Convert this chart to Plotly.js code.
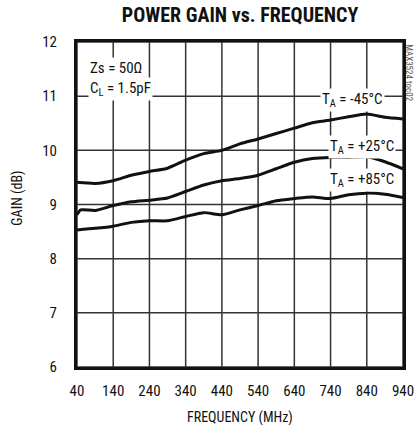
<!DOCTYPE html>
<html><head><meta charset="utf-8">
<script src="https://cdn.plot.ly/plotly-3.0.1.min.js"></script>
<style>html,body{margin:0;padding:0;background:#fff}#c{width:414px;height:430px}</style>
</head><body><div id="c"></div>
<script>
const freq = [40, 90, 140, 190, 240, 290, 340, 390, 440, 490, 540, 590, 640, 690, 740, 790, 840, 890, 940];
const gainM45 = [9.41, 9.39, 9.44, 9.54, 9.61, 9.67, 9.82, 9.94, 10.00, 10.12, 10.21, 10.31, 10.41, 10.51, 10.56, 10.62, 10.67, 10.61, 10.58];
const freq25 = [40, 50, 90, 140, 190, 240, 290, 340, 390, 440, 490, 540, 590, 640, 690, 740, 790, 840, 890, 940];
const gainP25 = [8.81, 8.90, 8.89, 8.98, 9.05, 9.08, 9.12, 9.24, 9.36, 9.44, 9.48, 9.54, 9.66, 9.78, 9.85, 9.87, 9.87, 9.88, 9.79, 9.66];
const gainP85 = [8.53, 8.56, 8.60, 8.67, 8.70, 8.70, 8.78, 8.85, 8.81, 8.90, 8.98, 9.07, 9.11, 9.14, 9.11, 9.18, 9.21, 9.19, 9.13];
const xTicks = [40, 140, 240, 340, 440, 540, 640, 740, 840, 940];
const yTicks = [6, 7, 8, 9, 10, 11, 12];
const labels = ['T<sub>A</sub> = -45°C', 'T<sub>A</sub> = +25°C', 'T<sub>A</sub> = +85°C'];

const F = '"Liberation Sans Narrow", "Arial Narrow", "Roboto Condensed", "Liberation Sans", Arial, sans-serif';
const xR = [xTicks[0], xTicks[xTicks.length - 1]];
const yR = [yTicks[0], yTicks[yTicks.length - 1]];

// grid lines as layout shapes built from the tick arrays and axis ranges
const gridShapes = [];
xTicks.forEach(v => gridShapes.push({type: 'line', xref: 'paper', yref: 'y',
  x0: (v - xR[0]) / (xR[1] - xR[0]), x1: (v - xR[0]) / (xR[1] - xR[0]), y0: yR[0], y1: yR[1],
  layer: 'below', line: {color: '#333', width: 1.5}}));
yTicks.forEach(v => gridShapes.push({type: 'line', xref: 'paper', yref: 'y', x0: 0, x1: 1, y0: v, y1: v,
  layer: 'below', line: {color: '#333', width: 1.5}}));

const line = {color: '#111', width: 3, shape: 'spline', smoothing: 0.6};
const traces = [
  {x: freq, y: gainM45, mode: 'lines', line: line, name: labels[0]},
  {x: freq25, y: gainP25, mode: 'lines', line: line, name: labels[1]},
  {x: freq, y: gainP85, mode: 'lines', line: line, name: labels[2]}
];
const tf = {family: F, size: 15, color: '#111'};
const layout = {
  width: 414, height: 430,
  margin: {l: 77, r: 11, t: 42, b: 63},
  paper_bgcolor: '#ffffff', plot_bgcolor: 'rgba(0,0,0,0)',
  showlegend: false,
  font: {family: F, size: 15, color: '#111'},
  title: {text: '<b>POWER GAIN vs. FREQUENCY</b>', font: {family: F, size: 20, color: '#111'}, x: 0.58, xanchor: 'center', y: 0.965, yanchor: 'middle'},
  xaxis: {range: xR, tickvals: xTicks, showgrid: false,
    showline: true, mirror: true, linecolor: '#111', linewidth: 3, zeroline: false,
    ticks: 'outside', ticklen: 8, tickcolor: '#ffffff', ticklabeloverflow: 'allow', tickfont: tf},
  yaxis: {range: yR, tickvals: yTicks, showgrid: false,
    showline: true, mirror: true, linecolor: '#111', linewidth: 3, zeroline: false,
    ticks: 'outside', ticklen: 14, tickcolor: '#ffffff', tickfont: tf},
  shapes: gridShapes,
  annotations: [
    {xref: 'paper', yref: 'paper', x: 0.5, y: -0.155, yanchor: 'middle', text: 'FREQUENCY (MHz)', showarrow: false, font: {family: F, size: 14, color: '#111'}},
    {xref: 'paper', yref: 'paper', x: -0.185, y: 0.52, xanchor: 'center', yanchor: 'middle', text: 'GAIN (dB)', textangle: -90, showarrow: false, font: {family: F, size: 14, color: '#111'}},
    {xref: 'paper', yref: 'paper', x: 0.035, y: 0.955, xanchor: 'left', text: 'Zs = 50Ω', showarrow: false, bgcolor: '#fff', font: tf},
    {xref: 'paper', yref: 'paper', x: 0.035, y: 0.893, xanchor: 'left', text: 'C<sub>L</sub> = 1.5pF', showarrow: false, bgcolor: '#fff', font: tf},
    {x: 800, y: 10.93, text: labels[0], showarrow: false, bgcolor: '#fff', font: tf},
    {x: 827, y: 10.06, text: labels[1], showarrow: false, bgcolor: '#fff', font: tf},
    {x: 827, y: 9.45, text: labels[2], showarrow: false, bgcolor: '#fff', font: tf},
    {xref: 'paper', yref: 'paper', x: 1.018, y: 1.0, xanchor: 'center', yanchor: 'top', text: 'MAX3524 toc02', textangle: 90, showarrow: false, font: {family: F, size: 9, color: '#555'}}
  ]
};
Plotly.newPlot('c', traces, layout, {displayModeBar: false});
</script></body></html>
